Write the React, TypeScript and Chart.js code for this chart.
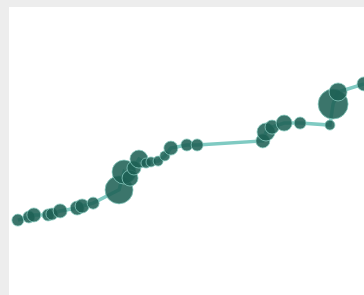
import React, { useEffect, useRef } from "react";
import { Chart, registerables } from "chart.js";

Chart.register(...registerables);

const days = [2.5, 5.6, 7.0, 11.0, 12.1, 14.4, 19.2, 20.6, 23.7, 31.0, 32.4, 34.1, 35.2, 36.6, 38.6, 40.0, 42.0, 43.9, 45.6, 50.1, 53.0, 71.5, 72.4, 74.1, 77.5, 82.0, 90.4, 91.3, 92.7, 100.0];
const values = [26.0, 27.1, 27.8, 27.8, 28.1, 29.2, 30.2, 30.9, 31.9, 36.5, 42.7, 40.6, 44.1, 47.2, 45.8, 46.2, 46.5, 48.3, 51.0, 52.1, 52.1, 53.5, 56.6, 58.3, 59.7, 59.7, 59.0, 66.3, 70.5, 73.3];
const volumes = [6, 6, 7, 6, 6, 7, 7, 7, 6, 14, 12, 8, 7, 9, 5, 5, 5, 5, 7, 6, 6, 7, 9, 7, 8, 6, 5, 15, 9, 7];

export default function App() {
  const ref = useRef<HTMLCanvasElement | null>(null);
  useEffect(() => {
    document.body.style.margin = "0";
    document.body.style.background = "#ededed";
    const canvas = ref.current!;
    const chart = new Chart(canvas, {
      type: "line",
      data: {
        datasets: [
          {
            data: days.map((d, i) => ({ x: d, y: values[i] })),
            borderColor: "#7fcac2",
            borderWidth: 3.5,
            pointRadius: (ctx: any) => volumes[ctx.dataIndex],
            pointBackgroundColor: "rgba(30,96,85,0.87)",
            pointBorderColor: "rgba(140,205,195,0.75)",
            pointBorderWidth: 1,
            tension: 0,
          },
        ],
      },
      options: {
        responsive: false,
        maintainAspectRatio: false,
        animation: false,
        layout: { padding: 0, autoPadding: false },
        scales: {
          x: { type: "linear", display: false, min: 0, max: 100 },
          y: { type: "linear", display: false, min: 0, max: 100 },
        },
        plugins: { legend: { display: false }, tooltip: { enabled: false } },
      },
    });
    return () => chart.destroy();
  }, []);
  return (
    <div style={{ position: "absolute", left: 9, top: 7, width: 355, height: 288, background: "#ffffff", overflow: "hidden" }}>
      <canvas ref={ref} width={355} height={288} style={{ display: "block", filter: "blur(0.6px)" }} />
    </div>
  );
}
